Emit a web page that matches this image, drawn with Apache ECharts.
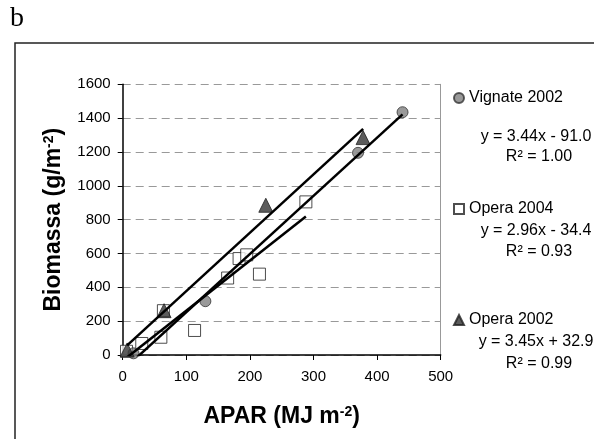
<!DOCTYPE html>
<html>
<head>
<meta charset="utf-8">
<script src="https://cdn.jsdelivr.net/npm/echarts@6/dist/echarts.min.js"></script>
<style>
  html, body { margin: 0; padding: 0; background: #fff; }
  #chart { width: 594px; height: 439px; }
</style>
</head>
<body>
<div id="chart"></div>
<script>
// Measured APAR (MJ m-2) and biomass (g/m2) per site/year
const vignateX = [17, 130, 370, 440];
const vignateY = [10, 318, 1195, 1435];
const opera04X = [6, 30, 60, 64, 113, 165, 183, 195, 215, 288];
const opera04Y = [22, 68, 105, 262, 145, 455, 570, 592, 478, 905];
const opera02X = [7, 65, 225, 378];
const opera02Y = [30, 262, 885, 1285];

// Linear fits: slope, intercept, R2
const seriesNames = ['Vignate 2002', 'Opera 2004', 'Opera 2002'];
const slopes = [3.44, 2.96, 3.45];
const intercepts = [-91.0, -34.4, 32.9];
const r2 = ['1.00', '0.93', '0.99'];

const xTicks = [0, 100, 200, 300, 400, 500];
const yTicks = [0, 200, 400, 600, 800, 1000, 1200, 1400, 1600];

const FONT = "'Liberation Sans', Arial, sans-serif";

function pairs(xs, ys) { return xs.map((x, i) => [x, ys[i]]); }
function fitLine(xs, k) {
  const lo = Math.min(...xs), hi = Math.max(...xs);
  return [[lo, slopes[k] * lo + intercepts[k]], [hi, slopes[k] * hi + intercepts[k]]];
}
function eqText(k) {
  const b = intercepts[k];
  const sign = b < 0 ? '- ' : '+ ';
  return 'y = ' + slopes[k].toFixed(2) + 'x ' + sign + Math.abs(b).toFixed(1);
}

const chart = echarts.init(document.getElementById('chart'));

const legendTops = [90, 201, 312];
const eqCenters = [137, 231, 342];
const r2Centers = [157, 252, 364];

const graphics = [
  { type: 'rect', shape: { x: 15, y: 43, width: 700, height: 500 },
    style: { fill: 'none', stroke: '#222', lineWidth: 1.5 }, silent: true, z: -1 },
  { type: 'text', x: 10, y: 19,
    style: { text: 'b', font: "28px 'Liberation Serif', 'Times New Roman', serif", fill: '#000', textVerticalAlign: 'middle' } }
];
for (let k = 0; k < 3; k++) {
  graphics.push({ type: 'text', x: 536, y: eqCenters[k],
    style: { text: eqText(k), font: '16px ' + FONT, fill: '#000', textAlign: 'center', textVerticalAlign: 'middle' } });
  graphics.push({ type: 'text', x: 539, y: r2Centers[k],
    style: { text: 'R\u00B2 = ' + r2[k], font: '16px ' + FONT, fill: '#000', textAlign: 'center', textVerticalAlign: 'middle' } });
}

const titleRich = { sup: { fontSize: 14, fontWeight: 'bold', fontFamily: FONT, verticalAlign: 'top', padding: [0, 0, 10, 0] } };

const option = {
  animation: false,
  backgroundColor: '#fff',
  textStyle: { fontFamily: FONT },
  grid: { left: 122.7, right: 153.3, top: 84.3, bottom: 84, containLabel: false },
  legend: seriesNames.map((n, k) => ({
    data: [n], left: 453, top: legendTops[k], orient: 'vertical',
    itemWidth: 10, itemHeight: 10, itemGap: 0, padding: 0,
    textStyle: { fontSize: 16, color: '#000', fontFamily: FONT }
  })),
  xAxis: {
    type: 'value', min: 0, max: 500, interval: 100,
    name: 'APAR (MJ m{sup|-2})', nameLocation: 'middle', nameGap: 50,
    nameTextStyle: { fontSize: 23, fontWeight: 'bold', color: '#000', fontFamily: FONT, rich: titleRich },
    axisLine: { show: true, lineStyle: { color: '#000', width: 1.5 } },
    axisTick: { show: true, length: 5, lineStyle: { color: '#000' } },
    axisLabel: { fontSize: 15, color: '#000', margin: 14, formatter: v => xTicks.includes(v) ? String(v) : '' },
    splitLine: { show: false }
  },
  yAxis: [{
    type: 'value', min: 0, max: 1600, interval: 200,
    name: 'Biomassa (g/m{sup|-2})', nameLocation: 'middle', nameGap: 57, nameRotate: 90,
    nameTextStyle: { fontSize: 23, fontWeight: 'bold', color: '#000', fontFamily: FONT, rich: titleRich },
    axisLine: { show: true, lineStyle: { color: '#000', width: 1.5 } },
    axisTick: { show: true, length: 5, lineStyle: { color: '#000' } },
    axisLabel: { fontSize: 15, color: '#000', margin: 12, formatter: v => yTicks.includes(v) ? String(v) : '' },
    splitLine: { show: true, lineStyle: { color: '#999', type: [8, 5], width: 1 } }
  }, {
    type: 'value', min: 0, max: 1600, interval: 200, position: 'right',
    axisLine: { show: true, lineStyle: { color: '#999', width: 1 } },
    axisTick: { show: false }, axisLabel: { show: false }, splitLine: { show: false }
  }],
  series: [
    { name: 'Opera 2004', type: 'scatter', data: pairs(opera04X, opera04Y),
      symbol: 'rect', symbolSize: 12, z: 2,
      itemStyle: { color: '#fff', borderColor: '#222', borderWidth: 1 } },
    { name: 'Vignate 2002', type: 'scatter', data: pairs(vignateX, vignateY),
      symbol: 'circle', symbolSize: 11, z: 3,
      itemStyle: { color: '#808080', borderColor: '#333', borderWidth: 1 } },
    { name: 'Opera 2002', type: 'scatter', data: pairs(opera02X, opera02Y),
      symbol: 'triangle', symbolSize: 14, z: 4,
      itemStyle: { color: '#333', borderColor: '#222', borderWidth: 1 } },
    { name: 'fit-v02', type: 'line', data: fitLine(vignateX, 0), symbol: 'none', clip: true, z: 5,
      lineStyle: { color: '#000', width: 2.5 } },
    { name: 'fit-o04', type: 'line', data: fitLine(opera04X, 1), symbol: 'none', clip: true, z: 5,
      lineStyle: { color: '#000', width: 2.5 } },
    { name: 'fit-o02', type: 'line', data: fitLine(opera02X, 2), symbol: 'none', clip: true, z: 5,
      lineStyle: { color: '#000', width: 2.5 } }
  ],
  graphic: graphics
};

chart.setOption(option);
</script>
</body>
</html>
